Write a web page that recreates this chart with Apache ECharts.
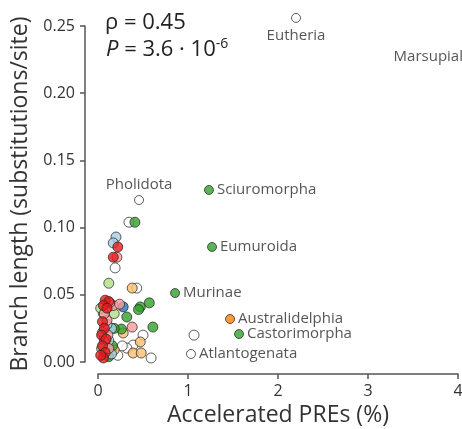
<!DOCTYPE html>
<html><head><meta charset="utf-8">
<script src="https://cdn.jsdelivr.net/npm/echarts@6/dist/echarts.min.js"></script>
<style>html,body{margin:0;padding:0;background:#fff}#c{width:462px;height:429px}</style>
</head><body><div id="c"></div>
<script>
// ---- data ----
var xTicks = [0, 1, 2, 3, 4];
var yTicks = [0, 0.05, 0.10, 0.15, 0.20, 0.25];
var rhoText = '0.45';
var pMantissa = '3.6';
var pExponent = '-6';

var redPts = [[0.08,0.046],[0.12,0.045],[0.06,0.042],[0.10,0.040],[0.05,0.030],[0.07,0.025],[0.04,0.020],[0.09,0.017],[0.05,0.012],[0.08,0.007],[0.06,0.003],[0.03,0.005],[0.22,0.0856],[0.17,0.078]];
var pinkPts = [[0.17,0.042],[0.13,0.044],[0.10,0.031],[0.07,0.036],[0.05,0.022],[0.11,0.020],[0.07,0.015],[0.04,0.010],[0.21,0.078],[0.38,0.026],[0.24,0.043],[0.12,0.010]];
var lightBluePts = [[0.20,0.093],[0.17,0.0886],[0.15,0.025],[0.12,0.016],[0.07,0.008],[0.15,0.006],[0.10,0.028]];
var bluePts = [[0.28,0.041]];
var lightGreenPts = [[0.12,0.0586],[0.06,0.036],[0.18,0.036],[0.03,0.040]];
var greenPts = [[0.41,0.104],[0.57,0.044],[0.47,0.041],[0.45,0.039],[0.32,0.0335],[0.61,0.026],[0.26,0.0245],[0.16,0.012],[0.12,0.004],[0.18,0.025]];
var lightOrangePts = [[0.38,0.055],[0.28,0.0216],[0.47,0.0149],[0.39,0.0067],[0.48,0.0067],[0.07,0.018],[0.11,0.005],[0.18,0.009]];
var openPts = [[0.344,0.104],[0.19,0.070],[0.43,0.055],[0.50,0.020],[0.39,0.0126],[0.32,0.0104],[0.59,0.003],[0.27,0.012],[0.22,0.005],[1.067,0.020]];

// labelled clades: name, x, y, group
var labelNames = ['Eutheria','Marsupial','Pholidota','Sciuromorpha','Eumuroida','Murinae','Australidelphia','Castorimorpha','Atlantogenata'];
var labelX = [2.20, 3.67, 0.456, 1.233, 1.267, 0.856, 1.467, 1.567, 1.033];
var labelY = [0.256, 0.227, 0.1205, 0.128, 0.0856, 0.0513, 0.032, 0.0208, 0.006];
var labelGroup = ['open','none','open','green','green','green','orange','green','open'];

// ---- styles ----
var colors = {red:'#e31a1c', pink:'#fb9a99', lightBlue:'#a6cee3', blue:'#1f78b4', lightGreen:'#b2df8a', green:'#33a02c', lightOrange:'#fdbf6f', orange:'#ff7f00', open:'#ffffff', none:'rgba(0,0,0,0)'};
var labelPos = {Eutheria:'bottom', Marsupial:'inside', Pholidota:'top', Sciuromorpha:'right', Eumuroida:'right', Murinae:'right', Australidelphia:'right', Castorimorpha:'right', Atlantogenata:'right'};
var FONT = 'Open Sans';

function mk(pts, col, size) {
  return {type:'scatter', data:pts, symbolSize:size||10, clip:false,
    itemStyle:{color:col, borderColor:'#222', borderWidth:0.9}};
}
var series = [
  mk(openPts, colors.open),
  mk(lightOrangePts, colors.lightOrange),
  mk(greenPts, colors.green),
  mk(lightGreenPts, colors.lightGreen),
  mk(bluePts, colors.blue),
  mk(lightBluePts, colors.lightBlue),
  mk(pinkPts, colors.pink),
  mk(redPts, colors.red)
];
var labData = labelNames.map(function(n,i){
  var g = labelGroup[i];
  return {name:n, value:[labelX[i], labelY[i]],
    symbolSize: g==='none'?0:9,
    itemStyle:{color:colors[g], borderColor: g==='none'?'rgba(0,0,0,0)':'#222', borderWidth:0.9},
    label:{show:true, position:labelPos[n], distance:n==='Eutheria'?5:3, formatter:'{b}', color:'#2b2b2b', fontSize:15, fontFamily:FONT}};
});
series.push({type:'scatter', data:labData, clip:false});

var chart = echarts.init(document.getElementById('c'), null, {renderer:'canvas'});
chart.setOption({
  animation:false,
  grid:{left:98, right:4, top:26, bottom:67, containLabel:false, outerBoundsMode:'none'},
  xAxis:{type:'value', min:xTicks[0], max:xTicks[xTicks.length-1], interval:1, offset:12,
    name:'Accelerated PREs (%)', nameLocation:'middle', nameGap:28,
    nameTextStyle:{fontSize:23, color:'#333', fontFamily:FONT},
    axisLine:{show:true, onZero:false, lineStyle:{color:'#555', width:1.5}},
    axisTick:{show:true, length:5, lineStyle:{color:'#555', width:1.5}},
    axisLabel:{fontSize:16, color:'#333', fontFamily:FONT, margin:9},
    splitLine:{show:false}},
  yAxis:{type:'value', min:yTicks[0], max:yTicks[yTicks.length-1], interval:0.05, offset:13,
    name:'Branch length (substitutions/site)', nameLocation:'middle', nameGap:50,
    nameTextStyle:{fontSize:23, color:'#333', fontFamily:FONT},
    axisLine:{show:true, onZero:false, lineStyle:{color:'#555', width:1.5}},
    axisTick:{show:true, length:5, lineStyle:{color:'#555', width:1.5}},
    axisLabel:{fontSize:16, color:'#333', fontFamily:FONT, margin:10, formatter:function(v){return v.toFixed(2);}},
    splitLine:{show:false}},
  graphic:[
    {type:'text', left:105, top:12, style:{text:'ρ = '+rhoText, font:'22px '+FONT, fill:'#222'}},
    {type:'text', left:106, top:37, style:{
      text:'{i|P} = '+pMantissa+' · 10{s|'+pExponent+'}',
      font:'22px '+FONT, fill:'#222',
      rich:{i:{fontStyle:'italic', fontSize:22, fontFamily:FONT, fill:'#222'},
            s:{fontSize:14, fontFamily:FONT, verticalAlign:'top', padding:[0,0,11,0], fill:'#222'}}}}
  ],
  series:series
});
</script></body></html>
